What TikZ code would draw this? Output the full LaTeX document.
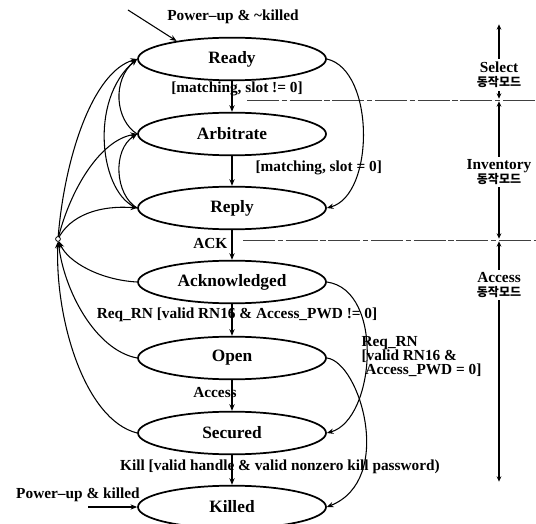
\documentclass[tikz,border=0pt]{standalone}
\usepackage{fontspec}
\setmainfont{Liberation Serif}
\newfontfamily\krfont{Noto Sans CJK KR}
\usepackage{tikz}
\usetikzlibrary{
	arrows.meta,
	shapes.geometric
}
\tikzset{
	state/.style={ellipse, draw, line width=1.3pt, minimum width=141pt, minimum height=32pt, inner sep=0pt, font=\fontsize{13}{15}\selectfont\bfseries},
	trans/.style={line width=0.8pt, -{Stealth[length=5pt,width=4pt]}},
	down/.style={trans, line width=1.3pt},
	lbl/.style={font=\fontsize{11.5}{10.5}\selectfont\bfseries, inner sep=1pt},
	mode/.style={lbl, fill=white, align=center, inner sep=2pt},
	axis/.style={line width=0.9pt, {Stealth[length=4pt,width=3.5pt]}-{Stealth[length=4pt,width=3.5pt]}, shorten <=1pt, shorten >=1pt},
	bound/.style={line width=0.6pt, dash pattern=on 24pt off 2pt on 4pt off 2pt, black!75}
}

\begin{document}
\begin{tikzpicture}[x=0.75pt, y=-0.75pt]
				\useasboundingbox (0,0) rectangle (536,524);
				\node[state] (ready) at (232,59) {Ready};
				\node[state] (arbitrate) at (232,134) {Arbitrate};
				\node[state] (reply) at (232,208) {Reply};
				\node[state] (ack) at (232,282) {Acknowledged};
				\node[state] (open) at (232,358) {Open};
				\node[state] (secured) at (232,433) {Secured};
				\node[state] (killed) at (232,507) {Killed};
				\coordinate (jn) at (58,239);
				\coordinate (pwrtop) at (128,10);
				\coordinate (pwrbot) at (88,507);
				\coordinate (axtop) at (499,23);
				\coordinate (axsel) at (499,100);
				\coordinate (axinv) at (499,240);
				\coordinate (axbot) at (499,483);
				\draw[bound] (247,100) -- (536,100);
				\draw[bound] (243,240) -- (536,240);
				\draw[axis] (axtop) -- (axsel);
				\draw[axis] (axsel) -- (axinv);
				\draw[axis] (axinv) -- (axbot);
				\node[mode] (selmode) at (499,75) {Select\\{\krfont\bfseries\fontsize{9}{10.5}\selectfont 동작모드}};
				\node[mode] (invmode) at (499,172) {Inventory\\{\krfont\bfseries\fontsize{9}{10.5}\selectfont 동작모드}};
				\node[mode] (accmode) at (499,285) {Access\\{\krfont\bfseries\fontsize{9}{10.5}\selectfont 동작모드}};
				\draw[down] (ready) -- (arbitrate);
				\draw[down] (arbitrate) -- (reply);
				\draw[down] (reply) -- (ack);
				\draw[down] (ack) -- (open);
				\draw[down] (open) -- (secured);
				\draw[down] (secured) -- (killed);
				\draw[trans] (pwrtop) -- (ready.162);
				\draw[trans] (pwrbot) -- (killed.west);
				\draw[trans] (jn) .. controls (64,160) and (92,72) .. (ready.west);
				\draw[trans] (reply.west) .. controls (100,195) and (88,100) .. (ready.west);
				\draw[trans] (arbitrate.west) .. controls (115,120) and (112,80) .. (ready.west);
				\draw[trans] (reply.west) .. controls (115,195) and (112,150) .. (arbitrate.west);
				\draw[trans] (jn) .. controls (70,190) and (100,140) .. (arbitrate.west);
				\draw[trans] (jn) .. controls (70,215) and (100,205) .. (reply.west);
				\draw[trans, shorten >=2pt] (ack.west) .. controls (100,280) and (68,262) .. (jn);
				\draw[trans, shorten >=2pt] (open.west) .. controls (95,350) and (64,290) .. (jn);
				\draw[trans, shorten >=2pt] (secured.west) .. controls (85,420) and (55,320) .. (jn);
				\draw[fill=white, line width=0.6pt] (jn) circle (1.8pt);
				\draw[trans] (ready.east) .. controls (375,70) and (375,195) .. (reply.east);
				\draw[trans] (ack.east) .. controls (385,290) and (375,420) .. (secured.east);
				\draw[trans] (open.east) .. controls (360,362) and (395,480) .. (killed.east);
				\node[lbl] (pwrtoplbl) at (233,17) {Power--up \& \textasciitilde killed};
				\node[lbl] (pwrbotlbl) at (78,495) {Power--up \& killed};
				\node[lbl] (slotne) at (237,89) {[matching, slot != 0]};
				\node[lbl, anchor=west] (sloteq) at (254,168) {[matching, slot = 0]};
				\node[lbl, anchor=east] (acklbl) at (229,243) {ACK};
				\node[lbl] (reqrn) at (237,315) {Req\_RN [valid RN16 \& Access\_PWD != 0]};
				\node[lbl, anchor=west, align=left] (reqrnz) at (360,357) {Req\_RN\\{}[valid RN16 \&\\\ Access\_PWD = 0]};
				\node[lbl] (acclbl) at (215,393) {Access};
				\node[lbl] (killlbl) at (280,467) {Kill [valid handle \& valid nonzero kill password)};
			\end{tikzpicture}
\end{document}
